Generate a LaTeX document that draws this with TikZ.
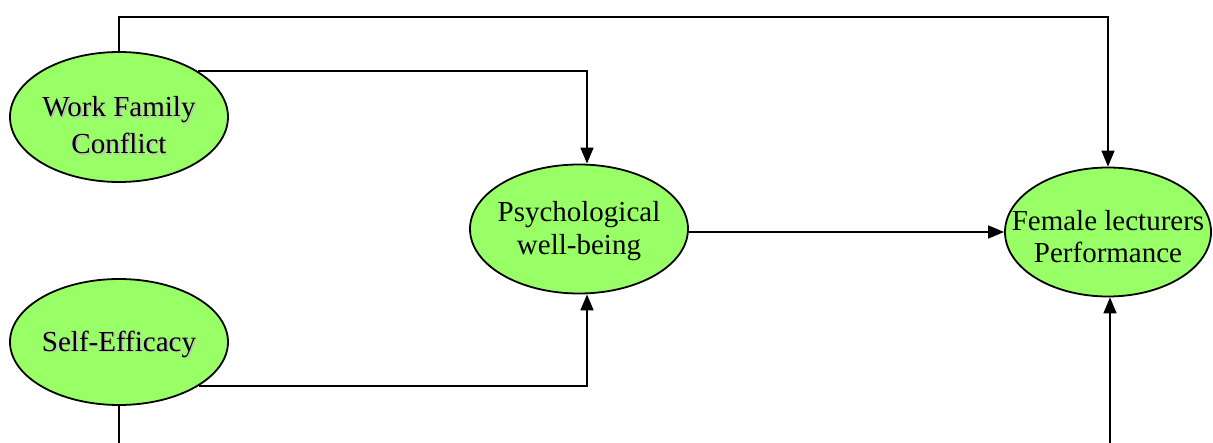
\documentclass[tikz,border=0pt]{standalone}
\usepackage{fontspec}
\setmainfont{Liberation Serif}
\usepackage{tikz}
\usetikzlibrary{shapes.geometric, arrows.meta}

\definecolor{lightgreen}{HTML}{99FF66}
\newcommand{\shtext}[1]{\makebox[0pt][l]{\hspace{1.5pt}\raisebox{-1.5pt}{\textcolor{black!25}{#1}}}#1}
\newcommand{\lbl}[2][-7pt]{\raisebox{#1}[0pt][0pt]{\makebox[0pt]{\begin{tabular}{@{}c@{}}#2\end{tabular}}}}

\tikzset{
    construct/.style={ellipse, draw=black, line width=1.8pt, fill=lightgreen,
        inner sep=0pt, font=\fontsize{29}{37}\selectfont},
    link/.style={line width=1.6pt, -{Triangle[width=13pt,length=16pt]}},
    plainlink/.style={line width=1.6pt}
}

\begin{document}
\begin{tikzpicture}[x=1pt, y=-1pt]
        \useasboundingbox (0,0) rectangle (1213,443);

        % Add the constructs
        \node[construct, minimum width=218pt, minimum height=130pt] (wfc) at (119,117) {\lbl[-17pt]{\shtext{Work Family}\\ \shtext{Conflict}}};
        \node[construct, minimum width=218pt, minimum height=126pt] (se)  at (119,342) {\lbl[-8pt]{\shtext{Self-Efficacy}}};
        \node[construct, minimum width=218pt, minimum height=129pt] (pwb) at (579,229) {\lbl[-8pt]{Psychological\\[-4pt] well-being}};
        \node[construct, minimum width=206pt, minimum height=129pt] (flp) at (1108,232) {\lbl[-13pt]{Female lecturers\\[-5pt] Performance}};

        % Free ends and corners
        \coordinate (top) at (600,17);
        \coordinate (seout) at (119,443);
        \coordinate (flpin) at (1110,443);

        % Add the paths
        \draw[link] (wfc.north) |- (top) -| (flp.north);
        \draw[link] (wfc.30) -| ([xshift=8pt]pwb.north);
        \draw[link] (se.-29) -| ([xshift=8pt]pwb.south);
        \draw[link] (pwb.east |- flp.west) -- (flp.west);
        \draw[plainlink] (se.south) -- (seout);
        \draw[link] (flpin) -- ([xshift=2pt]flp.south);
    \end{tikzpicture}
\end{document}
